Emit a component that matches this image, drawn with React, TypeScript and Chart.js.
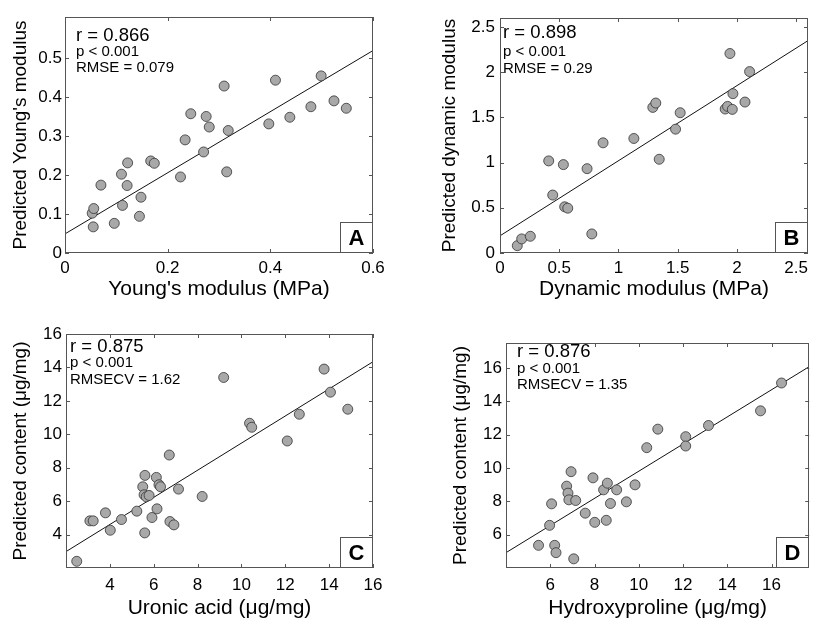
import React, { useEffect, useRef } from 'react';
import { Chart, registerables } from 'chart.js';
Chart.register(...registerables);

const FONT = '"Liberation Sans", Arial, Helvetica, sans-serif';
const FRAME = '#555';

// ---------- Panel A : Young's modulus ----------
const aMeasured = [0.053, 0.056, 0.055, 0.070, 0.096, 0.112, 0.110, 0.121, 0.122, 0.145, 0.148, 0.167, 0.174, 0.225, 0.234, 0.245, 0.270, 0.275, 0.281, 0.310, 0.318, 0.315, 0.397, 0.410, 0.438, 0.479, 0.499, 0.524, 0.548];
const aPredicted = [0.102, 0.114, 0.067, 0.174, 0.076, 0.122, 0.202, 0.173, 0.231, 0.094, 0.143, 0.236, 0.230, 0.195, 0.290, 0.357, 0.259, 0.350, 0.323, 0.428, 0.314, 0.208, 0.331, 0.443, 0.348, 0.375, 0.454, 0.390, 0.371];
const aFitX = [0, 0.6];
const aFitY = [0.049, 0.519];
const aXTicks = [0, 0.2, 0.4, 0.6];
const aXTickLabels = ['0', '0.2', '0.4', '0.6'];
const aYTicks = [0, 0.1, 0.2, 0.3, 0.4, 0.5];
const aYTickLabels = ['0', '0.1', '0.2', '0.3', '0.4', '0.5'];
const aStats = ['r = 0.866', 'p < 0.001', 'RMSE = 0.079'];

// ---------- Panel B : Dynamic modulus ----------
const bMeasured = [0.146, 0.183, 0.256, 0.411, 0.445, 0.535, 0.546, 0.572, 0.735, 0.775, 0.870, 1.130, 1.290, 1.315, 1.344, 1.482, 1.521, 1.901, 1.921, 1.961, 1.941, 1.966, 2.068, 2.107];
const bPredicted = [0.081, 0.156, 0.185, 1.019, 0.641, 0.978, 0.511, 0.496, 0.933, 0.211, 1.219, 1.267, 1.611, 1.659, 1.037, 1.370, 1.552, 1.593, 1.622, 1.589, 2.207, 1.763, 1.670, 2.007];
const bFitX = [0, 2.6];
const bFitY = [0.19, 2.35];
const bXTicks = [0, 0.5, 1, 1.5, 2, 2.5];
const bXTickLabels = ['0', '0.5', '1', '1.5', '2', '2.5'];
const bYTicks = [0, 0.5, 1, 1.5, 2, 2.5];
const bYTickLabels = ['0', '0.5', '1', '1.5', '2', '2.5'];
const bStats = ['r = 0.898', 'p < 0.001', 'RMSE = 0.29'];

// ---------- Panel C : Uronic acid ----------
const cMeasured = [2.49, 3.09, 3.24, 3.80, 4.02, 4.53, 5.23, 5.59, 5.50, 5.60, 5.56, 5.66, 5.79, 5.92, 6.12, 6.15, 6.24, 6.31, 6.71, 6.74, 6.92, 7.13, 8.21, 9.19, 10.37, 10.47, 12.09, 12.64, 13.77, 14.06, 14.85];
const cPredicted = [2.40, 4.82, 4.82, 5.30, 4.26, 4.90, 5.40, 4.10, 6.86, 7.54, 6.38, 6.26, 6.34, 5.02, 7.42, 5.54, 6.98, 6.86, 8.76, 4.78, 4.58, 6.72, 6.28, 13.40, 10.66, 10.42, 9.60, 11.20, 13.90, 12.52, 11.50];
const cFitX = [2, 16];
const cFitY = [2.98, 14.34];
const cXTicks = [4, 6, 8, 10, 12, 14, 16];
const cXTickLabels = ['4', '6', '8', '10', '12', '14', '16'];
const cYTicks = [4, 6, 8, 10, 12, 14, 16];
const cYTickLabels = ['4', '6', '8', '10', '12', '14', '16'];
const cStats = ['r = 0.875', 'p < 0.001', 'RMSECV = 1.62'];

// ---------- Panel D : Hydroxyproline ----------
const dMeasured = [5.47, 5.97, 6.06, 6.20, 6.26, 6.74, 6.80, 6.84, 6.94, 7.06, 7.15, 7.58, 7.93, 8.01, 8.41, 8.53, 8.58, 8.72, 9.00, 9.44, 9.83, 10.36, 10.86, 12.12, 12.12, 13.15, 15.50, 16.45];
const dPredicted = [5.36, 6.56, 7.85, 5.36, 4.92, 8.91, 8.49, 8.09, 9.78, 4.55, 8.05, 7.29, 9.41, 6.74, 8.69, 6.86, 9.09, 7.87, 8.69, 7.97, 8.99, 11.22, 12.33, 11.88, 11.32, 12.55, 13.43, 15.10];
const dFitX = [4, 17.7];
const dFitY = [4.92, 16.08];
const dXTicks = [6, 8, 10, 12, 14, 16];
const dXTickLabels = ['6', '8', '10', '12', '14', '16'];
const dYTicks = [6, 8, 10, 12, 14, 16];
const dYTickLabels = ['6', '8', '10', '12', '14', '16'];
const dStats = ['r = 0.876', 'p < 0.001', 'RMSECV = 1.35'];

type Spec = {
  letter: string;
  xs: number[]; ys: number[]; fitX: number[]; fitY: number[];
  xMin: number; xMax: number; yMin: number; yMax: number;
  xTicks: number[]; xTickLabels: string[]; yTicks: number[]; yTickLabels: string[];
  xTitle: string; yTitle: string; stats: string[];
  box: { left: number; top: number; width: number; height: number };
  padTop: number; padRight: number; yAxisWidth: number; xAxisHeight: number;
  yTitlePad: number; xTitlePad: number; yTickPad: number; xTickPad: number;
  statsDx: number; statsDy: number[];
};

const specs: Spec[] = [
  {
    letter: 'A', xs: aMeasured, ys: aPredicted, fitX: aFitX, fitY: aFitY,
    xMin: 0, xMax: 0.6, yMin: 0, yMax: 0.605,
    xTicks: aXTicks, xTickLabels: aXTickLabels, yTicks: aYTicks, yTickLabels: aYTickLabels,
    xTitle: "Young's modulus (MPa)", yTitle: "Predicted Young's modulus", stats: aStats,
    box: { left: 0, top: 0, width: 410, height: 310 },
    padTop: 17, padRight: 37, yAxisWidth: 65, xAxisHeight: 57,
    yTitlePad: 9, xTitlePad: 8, yTickPad: 3, xTickPad: 5,
    statsDx: 11, statsDy: [24, 39, 55],
  },
  {
    letter: 'B', xs: bMeasured, ys: bPredicted, fitX: bFitX, fitY: bFitY,
    xMin: 0, xMax: 2.6, yMin: 0, yMax: 2.6,
    xTicks: bXTicks, xTickLabels: bXTickLabels, yTicks: bYTicks, yTickLabels: bYTickLabels,
    xTitle: 'Dynamic modulus (MPa)', yTitle: 'Predicted dynamic modulus', stats: bStats,
    box: { left: 430, top: 0, width: 385, height: 310 },
    padTop: 18, padRight: 7, yAxisWidth: 70, xAxisHeight: 57,
    yTitlePad: 8.6, xTitlePad: 8, yTickPad: 5, xTickPad: 5,
    statsDx: 3, statsDy: [20, 38, 55],
  },
  {
    letter: 'C', xs: cMeasured, ys: cPredicted, fitX: cFitX, fitY: cFitY,
    xMin: 2, xMax: 16, yMin: 2, yMax: 16,
    xTicks: cXTicks, xTickLabels: cXTickLabels, yTicks: cYTicks, yTickLabels: cYTickLabels,
    xTitle: 'Uronic acid (\u03bcg/mg)', yTitle: 'Predicted content (\u03bcg/mg)', stats: cStats,
    box: { left: 0, top: 310, width: 410, height: 313 },
    padTop: 24, padRight: 37, yAxisWidth: 66, xAxisHeight: 55,
    yTitlePad: 9, xTitlePad: 2, yTickPad: 4, xTickPad: 7,
    statsDx: 4, statsDy: [18, 33, 50],
  },
  {
    letter: 'D', xs: dMeasured, ys: dPredicted, fitX: dFitX, fitY: dFitY,
    xMin: 4, xMax: 17.7, yMin: 4, yMax: 17.5,
    xTicks: dXTicks, xTickLabels: dXTickLabels, yTicks: dYTicks, yTickLabels: dYTickLabels,
    xTitle: 'Hydroxyproline (\u03bcg/mg)', yTitle: 'Predicted content (\u03bcg/mg)', stats: dStats,
    box: { left: 430, top: 310, width: 385, height: 313 },
    padTop: 33, padRight: 5, yAxisWidth: 76, xAxisHeight: 55,
    yTitlePad: 19.6, xTitlePad: 2, yTickPad: 4, xTickPad: 7,
    statsDx: 11, statsDy: [14, 30, 46],
  },
];

function makeDecor(p: Spec) {
  return {
    id: 'decor' + p.letter,
    afterDatasetsDraw(chart: any) {
      const { ctx, chartArea: a, scales } = chart;
      const xs = scales.x;
      const ys = scales.y;
      ctx.save();
      ctx.strokeStyle = FRAME;
      ctx.lineWidth = 1;
      ctx.beginPath();
      const tl = 4;
      for (const v of p.xTicks) {
        const px = Math.round(xs.getPixelForValue(v)) + 0.5;
        ctx.moveTo(px, a.bottom); ctx.lineTo(px, a.bottom - tl);
        ctx.moveTo(px, a.top); ctx.lineTo(px, a.top + tl);
      }
      for (const v of p.yTicks) {
        const py = Math.round(ys.getPixelForValue(v)) + 0.5;
        ctx.moveTo(a.left, py); ctx.lineTo(a.left + tl, py);
        ctx.moveTo(a.right, py); ctx.lineTo(a.right - tl, py);
      }
      ctx.stroke();
      ctx.strokeRect(Math.round(a.left) + 0.5, Math.round(a.top) + 0.5, Math.round(a.right - a.left) - 1, Math.round(a.bottom - a.top) - 1);

      ctx.fillStyle = '#000';
      ctx.textAlign = 'left';
      ctx.textBaseline = 'alphabetic';
      p.stats.forEach((s, i) => {
        ctx.font = `${i === 0 ? 18.5 : 15}px ${FONT}`;
        ctx.fillText(s, a.left + p.statsDx, a.top + p.statsDy[i]);
      });

      const bw = 33, bh = 31;
      const bx = Math.round(a.right) - bw;
      const by = Math.round(a.bottom) - bh;
      ctx.fillStyle = '#fff';
      ctx.fillRect(bx, by, bw, bh);
      ctx.strokeRect(bx + 0.5, by + 0.5, bw - 1, bh - 1);
      ctx.fillStyle = '#000';
      ctx.font = `bold 22px ${FONT}`;
      ctx.textAlign = 'center';
      ctx.textBaseline = 'middle';
      ctx.fillText(p.letter, bx + bw / 2, by + bh / 2 + 1);
      ctx.restore();
    },
  };
}

function Panel({ p }: { p: Spec }) {
  const ref = useRef<HTMLCanvasElement>(null);
  useEffect(() => {
    if (!ref.current) return;
    const chart = new Chart(ref.current, {
      type: 'scatter',
      data: {
        datasets: [
          {
            data: p.xs.map((v, i) => ({ x: v, y: p.ys[i] })),
            pointRadius: 5,
            pointBackgroundColor: '#a8a8a8',
            pointBorderColor: '#333',
            pointBorderWidth: 0.8,
            showLine: false,
          },
          {
            data: p.fitX.map((v, i) => ({ x: v, y: p.fitY[i] })),
            showLine: true,
            borderColor: '#111',
            borderWidth: 1,
            pointRadius: 0,
            fill: false,
          },
        ],
      },
      options: {
        responsive: false,
        animation: false,
        devicePixelRatio: 1,
        layout: { padding: { top: p.padTop, right: p.padRight, left: 0, bottom: 0 } },
        plugins: { legend: { display: false }, tooltip: { enabled: false } },
        scales: {
          x: {
            type: 'linear',
            min: p.xMin,
            max: p.xMax,
            grid: { display: false, drawTicks: false },
            border: { display: false },
            afterBuildTicks: (s: any) => { s.ticks = p.xTicks.map((v) => ({ value: v })); },
            afterFit: (s: any) => { s.height = p.xAxisHeight; },
            ticks: {
              autoSkip: false, maxRotation: 0, minRotation: 0,
              padding: p.xTickPad, color: '#000',
              font: { family: FONT, size: 17 },
              callback: (_v: any, i: number) => p.xTickLabels[i],
            },
            title: {
              display: true, text: p.xTitle, color: '#000',
              font: { family: FONT, size: 21 },
              padding: { top: 0, bottom: p.xTitlePad },
            },
          },
          y: {
            type: 'linear',
            min: p.yMin,
            max: p.yMax,
            grid: { display: false, drawTicks: false },
            border: { display: false },
            afterBuildTicks: (s: any) => { s.ticks = p.yTicks.map((v) => ({ value: v })); },
            afterFit: (s: any) => { s.width = p.yAxisWidth; },
            ticks: {
              autoSkip: false,
              padding: p.yTickPad, color: '#000',
              font: { family: FONT, size: 17 },
              callback: (_v: any, i: number) => p.yTickLabels[i],
            },
            title: {
              display: true, text: p.yTitle, color: '#000',
              font: { family: FONT, size: 19 },
              padding: { top: p.yTitlePad, bottom: 0 },
            },
          },
        },
      } as any,
      plugins: [makeDecor(p)],
    });
    return () => chart.destroy();
  }, [p]);
  return (
    <canvas
      ref={ref}
      width={p.box.width}
      height={p.box.height}
      style={{ position: 'absolute', left: p.box.left, top: p.box.top, width: p.box.width, height: p.box.height }}
    />
  );
}

export default function App() {
  return (
    <div style={{ position: 'absolute', left: 0, top: 0, width: 815, height: 623, background: '#fff', overflow: 'hidden' }}>
      {specs.map((p) => (
        <Panel key={p.letter} p={p} />
      ))}
    </div>
  );
}
